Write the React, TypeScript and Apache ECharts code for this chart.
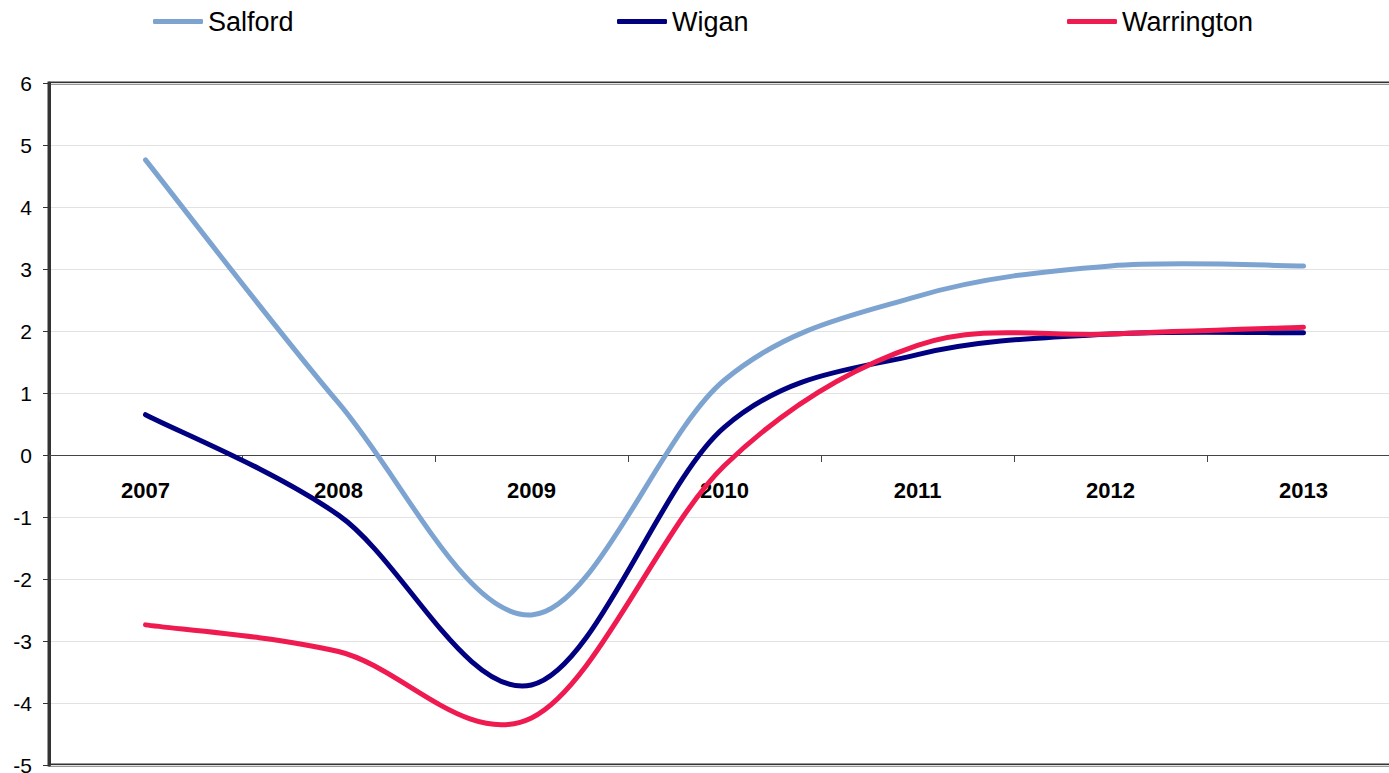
import React, { useEffect, useRef } from "react";
import * as echarts from "echarts";

const categories = ["2007", "2008", "2009", "2010", "2011", "2012", "2013"];
const salford = [4.76, 0.84, -2.58, 1.21, 2.56, 3.05, 3.05];
const wigan = [0.65, -0.97, -3.71, 0.45, 1.62, 1.95, 1.97];
const warrington = [-2.74, -3.17, -4.24, -0.17, 1.77, 1.95, 2.06];
const yTicks = { min: -5, max: 6, interval: 1 };

const FONT = "'Liberation Sans', Arial, sans-serif";

function curveSeries(name: string, values: number[], color: string) {
  return {
    type: "custom",
    name,
    data: values.map((v, i) => [i, v]),
    encode: { x: 0, y: 1 },
    itemStyle: { color },
    clip: false,
    renderItem: (params: any, api: any) => {
      if (params.dataIndex !== 0) return null;
      const pts = values.map((v, i) => api.coord([i, v]));
      const n = pts.length;
      let d = `M${pts[0][0]},${pts[0][1]}`;
      for (let i = 0; i < n - 1; i++) {
        const p0 = pts[i - 1] || pts[i];
        const p1 = pts[i];
        const p2 = pts[i + 1];
        const p3 = pts[i + 2] || pts[i + 1];
        const c1x = p1[0] + (p2[0] - p0[0]) / 6;
        const c1y = p1[1] + (p2[1] - p0[1]) / 6;
        const c2x = p2[0] - (p3[0] - p1[0]) / 6;
        const c2y = p2[1] - (p3[1] - p1[1]) / 6;
        d += ` C${c1x},${c1y} ${c2x},${c2y} ${p2[0]},${p2[1]}`;
      }
      return {
        type: "path",
        shape: { pathData: d },
        style: {
          fill: "none",
          stroke: color,
          lineWidth: 5,
          lineCap: "round",
          lineJoin: "round",
        },
      };
    },
  };
}

function legendFor(name: string, left: number, color: string) {
  return {
    data: [{ name, itemStyle: { color } }],
    left,
    top: 8,
    padding: 0,
    icon: "roundRect",
    itemWidth: 50,
    itemHeight: 5,
    selectedMode: false,
    textStyle: { fontFamily: FONT, fontSize: 27, color: "#000" },
  };
}

export default function App() {
  const ref = useRef<HTMLDivElement>(null);
  useEffect(() => {
    if (!ref.current) return;
    const chart = echarts.init(ref.current, undefined, { renderer: "svg" });
    const gridTop = 83;
    const gridBottom = 8;
    const plotH = 773 - gridTop - gridBottom;
    const zeroFromBottom = (plotH * (0 - yTicks.min)) / (yTicks.max - yTicks.min);
    chart.setOption({
      animation: false,
      backgroundColor: "#fff",
      legend: [
        legendFor("Salford", 153, "#7DA4D0"),
        legendFor("Wigan", 617, "#000080"),
        legendFor("Warrington", 1067, "#EE1A50"),
      ],
      grid: {
        left: 49,
        right: -11,
        top: gridTop,
        bottom: gridBottom,
        outerBoundsMode: "none",
        containLabel: false,
        show: true,
        borderColor: "#333",
        borderWidth: 3,
        backgroundColor: "transparent",
      },
      xAxis: {
        type: "category",
        data: categories,
        boundaryGap: true,
        position: "bottom",
        offset: -zeroFromBottom,
        axisLine: { onZero: false, lineStyle: { color: "#444", width: 1 } },
        axisTick: { show: true, alignWithLabel: false, length: 7, lineStyle: { color: "#444" } },
        axisLabel: {
          fontFamily: FONT,
          fontSize: 22,
          fontWeight: "bold",
          color: "#000",
          margin: 24,
        },
        splitLine: { show: false },
      },
      yAxis: {
        type: "value",
        min: yTicks.min,
        max: yTicks.max,
        interval: yTicks.interval,
        axisLine: { show: true, lineStyle: { color: "#333", width: 3 } },
        axisTick: { show: true, length: 6, lineStyle: { color: "#333", width: 1 } },
        axisLabel: { fontFamily: FONT, fontSize: 21, color: "#000", margin: 17 },
        splitLine: { show: true, lineStyle: { color: "#e2e2e2", width: 1 } },
      },
      series: [
        curveSeries("Salford", salford, "#7DA4D0"),
        curveSeries("Wigan", wigan, "#000080"),
        curveSeries("Warrington", warrington, "#EE1A50"),
      ],
    });
    return () => chart.dispose();
  }, []);
  return (
    <div
      ref={ref}
      style={{ position: "absolute", left: 0, top: 0, width: 1389, height: 773 }}
    />
  );
}
